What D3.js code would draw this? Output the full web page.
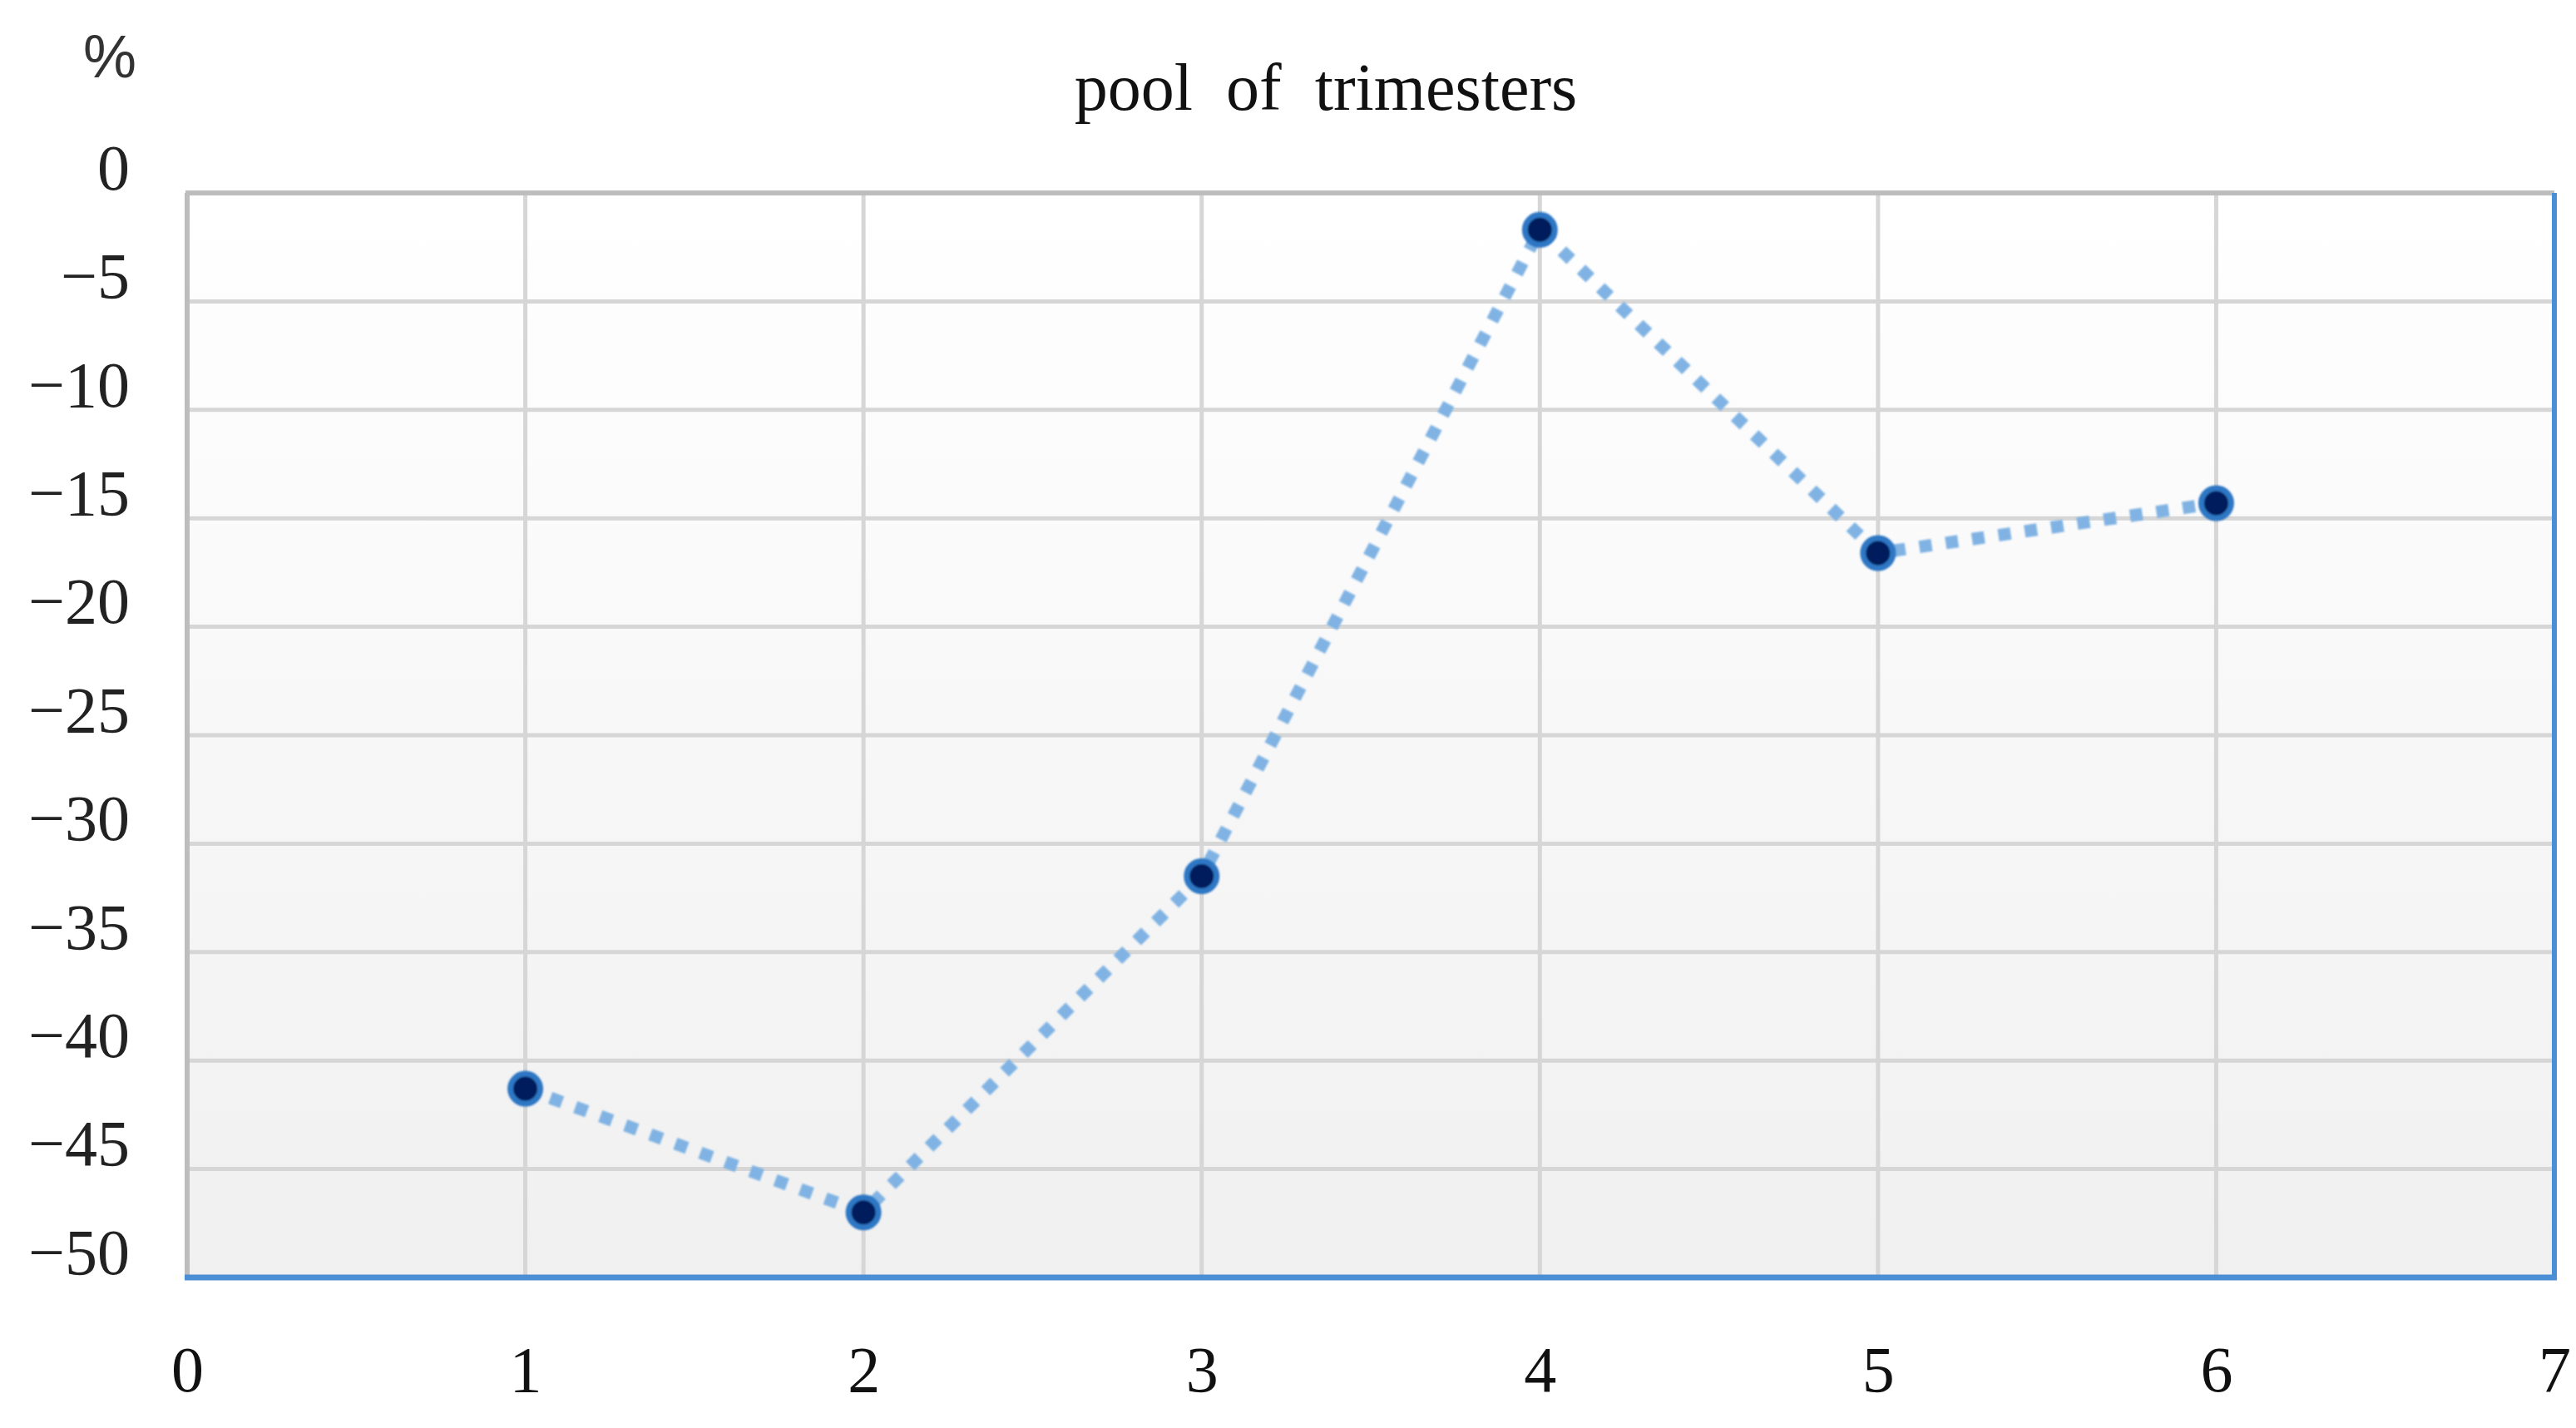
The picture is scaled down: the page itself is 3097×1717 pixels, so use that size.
<!DOCTYPE html>
<html>
<head>
<meta charset="utf-8">
<script src="https://cdn.jsdelivr.net/npm/d3@7"></script>
<style>
  html, body { margin: 0; padding: 0; background: #ffffff; }
  svg { display: block; }
</style>
</head>
<body>
<script>
// ---- data ----
const quarters = [1, 2, 3, 4, 5, 6];
const values = [-41.3, -47.0, -31.5, -1.7, -16.6, -14.3];
const xTicks = [0, 1, 2, 3, 4, 5, 6, 7];
const yTicks = [0, -5, -10, -15, -20, -25, -30, -35, -40, -45, -50];
const chartTitle = "pool  of  trimesters";
const unitLabel = "%";

// ---- layout ----
const W = 3097, H = 1717;
const pLeft = 225, pRight = 3071, pTop = 232, pBottom = 1536;

const svg = d3.select("body").append("svg")
  .attr("width", W).attr("height", H);

const defs = svg.append("defs");
const grad = defs.append("linearGradient")
  .attr("id", "bg").attr("x1", 0).attr("y1", 0).attr("x2", 0).attr("y2", 1);
grad.append("stop").attr("offset", "0%").attr("stop-color", "#ffffff");
grad.append("stop").attr("offset", "100%").attr("stop-color", "#f0f0f0");

const blur = defs.append("filter").attr("id", "soft")
  .attr("x", "-50%").attr("y", "-50%").attr("width", "200%").attr("height", "200%");
blur.append("feGaussianBlur").attr("stdDeviation", 1.3);

const x = d3.scaleLinear().domain([0, 7]).range([pLeft, pRight]);
const y = d3.scaleLinear().domain([-50, 0]).range([pBottom, pTop]);

// plot background
svg.append("rect")
  .attr("x", pLeft).attr("y", pTop)
  .attr("width", pRight - pLeft).attr("height", pBottom - pTop)
  .attr("fill", "url(#bg)");

// gridlines
svg.append("g").selectAll("line")
  .data(yTicks.filter(d => d !== 0 && d !== -50))
  .join("line")
  .attr("x1", pLeft).attr("x2", pRight)
  .attr("y1", d => y(d)).attr("y2", d => y(d))
  .attr("stroke", "#d6d6d6").attr("stroke-width", 5);

svg.append("g").selectAll("line")
  .data(xTicks.filter(d => d !== 0 && d !== 7))
  .join("line")
  .attr("x1", d => x(d)).attr("x2", d => x(d))
  .attr("y1", pTop).attr("y2", pBottom)
  .attr("stroke", "#d6d6d6").attr("stroke-width", 5);

// borders
svg.append("line").attr("x1", pLeft - 2).attr("x2", pRight).attr("y1", pTop).attr("y2", pTop)
  .attr("stroke", "#bdbdbd").attr("stroke-width", 6);
svg.append("line").attr("x1", pLeft).attr("x2", pLeft).attr("y1", pTop).attr("y2", pBottom)
  .attr("stroke", "#bdbdbd").attr("stroke-width", 6);
svg.append("line").attr("x1", pRight).attr("x2", pRight).attr("y1", pTop).attr("y2", pBottom + 3)
  .attr("stroke", "#4a8fd6").attr("stroke-width", 6);
svg.append("line").attr("x1", pLeft - 3).attr("x2", pRight + 3).attr("y1", pBottom).attr("y2", pBottom)
  .attr("stroke", "#4a8fd6").attr("stroke-width", 7);

// y axis labels
const yAxis = d3.axisLeft(y).tickValues(yTicks).tickSize(0).tickPadding(69);
const gy = svg.append("g").attr("transform", `translate(${pLeft},0)`).call(yAxis);
gy.select(".domain").remove();
gy.selectAll("text")
  .attr("dy", "-0.06em")
  .attr("font-family", "'Liberation Serif', 'Times New Roman', serif")
  .attr("font-size", 78)
  .attr("fill", "#222");

// x axis labels
const xAxis = d3.axisBottom(x).tickValues(xTicks).tickSize(0).tickFormat(d3.format("d"));
const gx = svg.append("g").attr("transform", `translate(0,${pBottom})`).call(xAxis);
gx.select(".domain").remove();
gx.selectAll("text")
  .attr("y", 137).attr("dy", 0)
  .attr("font-family", "'Liberation Serif', 'Times New Roman', serif")
  .attr("font-size", 78)
  .attr("fill", "#111");

// unit label
svg.append("text")
  .attr("x", 132).attr("y", 93)
  .attr("text-anchor", "middle")
  .attr("font-family", "'Liberation Sans', Arial, sans-serif")
  .attr("font-size", 72)
  .attr("fill", "#333")
  .text(unitLabel);

// title
svg.append("text")
  .attr("x", 1594).attr("y", 132)
  .attr("text-anchor", "middle")
  .attr("font-family", "'Liberation Serif', 'Times New Roman', serif")
  .attr("font-size", 80)
  .attr("fill", "#111")
  .attr("xml:space", "preserve")
  .style("white-space", "pre")
  .text(chartTitle);

// series line
const pts = quarters.map((q, i) => [q, values[i]]);
const line = d3.line().x(d => x(d[0])).y(d => y(d[1]));
svg.append("path")
  .datum(pts)
  .attr("d", line)
  .attr("fill", "none")
  .attr("stroke", "#80b3e3")
  .attr("stroke-width", 15)
  .attr("stroke-dasharray", "15 17")
  .attr("stroke-linecap", "butt")
  .attr("filter", "url(#soft)");

// markers
svg.append("g").selectAll("circle")
  .data(pts)
  .join("circle")
  .attr("cx", d => x(d[0]))
  .attr("cy", d => y(d[1]))
  .attr("r", 18)
  .attr("fill", "#001f5c")
  .attr("stroke", "#2f77c4")
  .attr("stroke-width", 7)
  .attr("filter", "url(#soft)");
</script>
</body>
</html>
